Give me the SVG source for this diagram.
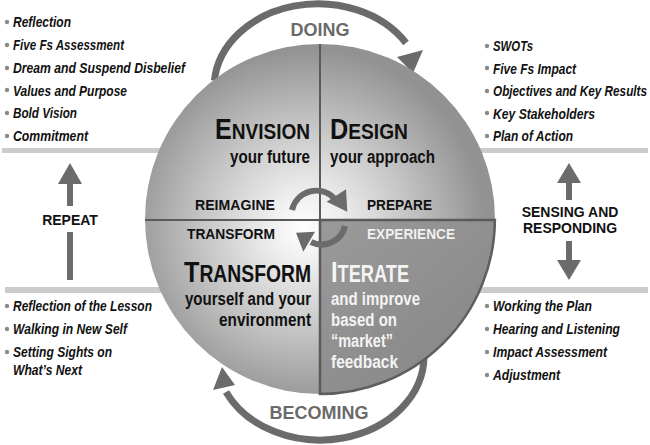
<svg xmlns="http://www.w3.org/2000/svg" width="650" height="445" viewBox="0 0 650 445">
<defs>
<radialGradient id="disc" cx="305" cy="228" r="180" gradientUnits="userSpaceOnUse">
<stop offset="0" stop-color="#ffffff"/>
<stop offset="0.2" stop-color="#eeeeee"/>
<stop offset="0.6" stop-color="#c2c2c2"/>
<stop offset="1" stop-color="#929292"/>
</radialGradient>
<linearGradient id="quad" x1="320" y1="220" x2="450" y2="380" gradientUnits="userSpaceOnUse">
<stop offset="0" stop-color="#9a9a9a"/>
<stop offset="1" stop-color="#888888"/>
</linearGradient>
</defs>
<style>
.band{fill:#cbcbcb}
.li{font-family:"Liberation Sans",Arial,sans-serif;font-style:italic;font-weight:bold;font-size:15px;fill:#111}
.dot{fill:#8a8a8a}
.big{font-family:"Liberation Sans",Arial,sans-serif;font-weight:bold;fill:#111}
.sub{font-family:"Liberation Sans",Arial,sans-serif;font-weight:bold;font-size:18px;fill:#111}
.lab{font-family:"Liberation Sans",Arial,sans-serif;font-weight:bold;font-size:14px;fill:#111}
.cyc{font-family:"Liberation Sans",Arial,sans-serif;font-weight:bold;font-size:18px;fill:#6a6a6a}
.arc{fill:none;stroke:#6b6b6b;stroke-width:7}
.carc{fill:none;stroke:#6b6b6b;stroke-width:6}
.ah{fill:#6b6b6b}
.div{stroke:#5a5a5a;stroke-width:2}
.wt{fill:#f4f4f4}
</style>

<g id="bands">
<rect class="band" x="2" y="148" width="170" height="5"/>
<rect class="band" x="470" y="148" width="178" height="5"/>
<rect class="band" x="5" y="287" width="165" height="6"/>
<rect class="band" x="470" y="287" width="178" height="6"/>
</g>

<g id="connectors">
<path class="arc" d="M214.4,80.7 A104,84 0 0 1 406,43"/>
<polygon class="ah" points="397,57 423,50 413,73"/>
<path class="arc" d="M424,356 A104,84 0 0 1 226,392"/>
<polygon class="ah" points="213,390 235,385 222,367"/>
</g>

<g id="circle">
<circle cx="320" cy="219" r="175" fill="url(#disc)"/>
<path d="M320,220 H494.9 A175,175 0 0 1 320,394 Z" fill="url(#quad)" stroke="#5e5e5e" stroke-width="2.5"/>
<line class="div" x1="320" y1="44" x2="320" y2="394"/>
<line class="div" x1="145" y1="220" x2="495" y2="220"/>
</g>

<g id="center-cycle">
<path class="carc" d="M292,210 A25,25 0 0 1 334,198"/>
<polygon class="ah" points="326.7,201.7 346,189.3 347.3,211.7"/>
<path class="carc" d="M345,226 A24,24 0 0 1 311,242"/>
<polygon class="ah" points="315,231.7 303.3,251.7 296,232.7"/>
</g>

<g id="envision">
<text class="big" x="0" y="0" transform="translate(310,139) scale(0.865,1)" text-anchor="end" textLength="109.8" lengthAdjust="spacingAndGlyphs"><tspan font-size="29">E</tspan><tspan font-size="22">NVISION</tspan></text>
<text class="sub" x="310" y="163" text-anchor="end" textLength="80" lengthAdjust="spacingAndGlyphs">your future</text>
</g>
<g id="design">
<text class="big" x="0" y="0" transform="translate(330,139) scale(0.872,1)" textLength="89.4" lengthAdjust="spacingAndGlyphs"><tspan font-size="29">D</tspan><tspan font-size="22">ESIGN</tspan></text>
<text class="sub" x="330" y="163" textLength="105" lengthAdjust="spacingAndGlyphs">your approach</text>
</g>
<g id="transform">
<text class="big" x="0" y="0" transform="translate(311,282) scale(0.84,1)" text-anchor="end" textLength="151.2" lengthAdjust="spacingAndGlyphs"><tspan font-size="30">T</tspan><tspan font-size="23">RANSFORM</tspan></text>
<text class="sub" x="311" y="305" text-anchor="end" textLength="126" lengthAdjust="spacingAndGlyphs">yourself and your</text>
<text class="sub" x="311" y="326" text-anchor="end" textLength="92" lengthAdjust="spacingAndGlyphs">environment</text>
</g>
<g id="iterate">
<text class="big wt" x="0" y="0" transform="translate(331,282) scale(0.778,1)" textLength="100.3" lengthAdjust="spacingAndGlyphs"><tspan font-size="30">I</tspan><tspan font-size="23">TERATE</tspan></text>
<text class="sub wt" x="331" y="305" textLength="89" lengthAdjust="spacingAndGlyphs">and improve</text>
<text class="sub wt" x="331" y="326" textLength="66" lengthAdjust="spacingAndGlyphs">based on</text>
<text class="sub wt" x="331" y="347" textLength="62" lengthAdjust="spacingAndGlyphs">“market”</text>
<text class="sub wt" x="331" y="368" textLength="67" lengthAdjust="spacingAndGlyphs">feedback</text>
</g>
<g id="stage-labels">
<text class="lab" x="195" y="210" textLength="80" lengthAdjust="spacingAndGlyphs">REIMAGINE</text>
<text class="lab" x="367" y="210" textLength="65" lengthAdjust="spacingAndGlyphs">PREPARE</text>
<text class="lab" x="187" y="239" textLength="88" lengthAdjust="spacingAndGlyphs">TRANSFORM</text>
<text class="lab" x="367" y="239" style="fill:#f0f0f0" textLength="88" lengthAdjust="spacingAndGlyphs">EXPERIENCE</text>
</g>
<g id="doing">
<text class="cyc" x="320" y="36" text-anchor="middle">DOING</text>
</g>
<g id="becoming">
<text class="cyc" x="319" y="419" text-anchor="middle">BECOMING</text>
</g>

<g id="list-envision">
<circle class="dot" cx="7" cy="22" r="2.2"/><text class="li" x="13" y="27" textLength="58" lengthAdjust="spacingAndGlyphs">Reflection</text>
<circle class="dot" cx="7" cy="45" r="2.2"/><text class="li" x="13" y="50" textLength="111" lengthAdjust="spacingAndGlyphs">Five Fs Assessment</text>
<circle class="dot" cx="7" cy="68" r="2.2"/><text class="li" x="13" y="73" textLength="172" lengthAdjust="spacingAndGlyphs">Dream and Suspend Disbelief</text>
<circle class="dot" cx="7" cy="90" r="2.2"/><text class="li" x="13" y="95.5" textLength="114" lengthAdjust="spacingAndGlyphs">Values and Purpose</text>
<circle class="dot" cx="7" cy="113" r="2.2"/><text class="li" x="13" y="118" textLength="64" lengthAdjust="spacingAndGlyphs">Bold Vision</text>
<circle class="dot" cx="7" cy="136" r="2.2"/><text class="li" x="13" y="141" textLength="75" lengthAdjust="spacingAndGlyphs">Commitment</text>
</g>
<g id="list-design">
<circle class="dot" cx="487" cy="46" r="2.2"/><text class="li" x="493" y="51" textLength="40" lengthAdjust="spacingAndGlyphs">SWOTs</text>
<circle class="dot" cx="487" cy="68" r="2.2"/><text class="li" x="493" y="73.5" textLength="83" lengthAdjust="spacingAndGlyphs">Five Fs Impact</text>
<circle class="dot" cx="487" cy="91" r="2.2"/><text class="li" x="0" y="0" transform="translate(493,96) scale(0.783,1)" textLength="196.7" lengthAdjust="spacingAndGlyphs">Objectives and Key Results</text>
<circle class="dot" cx="487" cy="113" r="2.2"/><text class="li" x="493" y="118.5" textLength="102" lengthAdjust="spacingAndGlyphs">Key Stakeholders</text>
<circle class="dot" cx="487" cy="136" r="2.2"/><text class="li" x="493" y="141" textLength="80" lengthAdjust="spacingAndGlyphs">Plan of Action</text>
</g>
<g id="list-transform">
<circle class="dot" cx="7" cy="306" r="2.2"/><text class="li" x="13" y="311" textLength="139" lengthAdjust="spacingAndGlyphs">Reflection of the Lesson</text>
<circle class="dot" cx="7" cy="329" r="2.2"/><text class="li" x="13" y="334" textLength="114" lengthAdjust="spacingAndGlyphs">Walking in New Self</text>
<circle class="dot" cx="7" cy="352" r="2.2"/><text class="li" x="13" y="357" textLength="99" lengthAdjust="spacingAndGlyphs">Setting Sights on</text>
<text class="li" x="13" y="375" textLength="69" lengthAdjust="spacingAndGlyphs">What’s Next</text>
</g>
<g id="list-iterate">
<circle class="dot" cx="487" cy="306" r="2.2"/><text class="li" x="493" y="311" textLength="99" lengthAdjust="spacingAndGlyphs">Working the Plan</text>
<circle class="dot" cx="487" cy="329" r="2.2"/><text class="li" x="493" y="334" textLength="127" lengthAdjust="spacingAndGlyphs">Hearing and Listening</text>
<circle class="dot" cx="487" cy="352" r="2.2"/><text class="li" x="493" y="357" textLength="114" lengthAdjust="spacingAndGlyphs">Impact Assessment</text>
<circle class="dot" cx="487" cy="375" r="2.2"/><text class="li" x="493" y="380" textLength="67" lengthAdjust="spacingAndGlyphs">Adjustment</text>
</g>

<g id="repeat">
<polygon class="ah" points="70,163 58,184 82,184"/>
<rect class="ah" x="67" y="183" width="6" height="23"/>
<text class="lab" x="70" y="225" text-anchor="middle">REPEAT</text>
<rect class="ah" x="67" y="232" width="6" height="48"/>
</g>
<g id="sensing">
<polygon class="ah" points="569,163 557,183 581,183"/>
<rect class="ah" x="566" y="182" width="6" height="18"/>
<text class="lab" x="570" y="217" text-anchor="middle">SENSING AND</text>
<text class="lab" x="570" y="233" text-anchor="middle">RESPONDING</text>
<rect class="ah" x="566" y="241" width="6" height="20"/>
<polygon class="ah" points="557,260 581,260 569,280"/>
</g>
</svg>
